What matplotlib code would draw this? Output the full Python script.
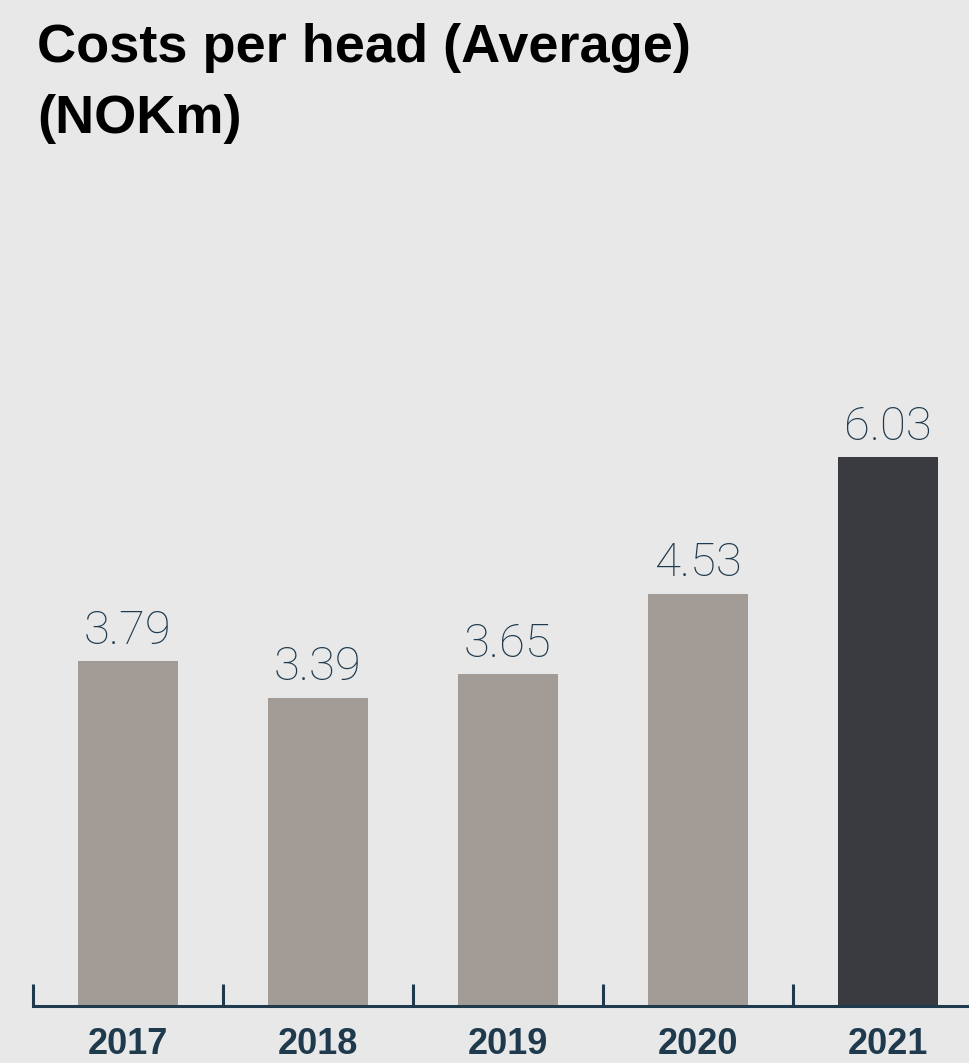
import matplotlib.pyplot as plt

# ==========================================================
# DATA
# ==========================================================

years = ["2017", "2018", "2019", "2020", "2021"]
costs = [3.79, 3.39, 3.65, 4.53, 6.03]
value_labels = ["3.79", "3.39", "3.65", "4.53", "6.03"]

# ==========================================================
# STYLE
# ==========================================================

BG = "#e8e8e8"
BAR_GREY = "#a39b95"
BAR_DARK = "#3a3b41"
NAVY = "#1f3a4d"

bar_colors = [BAR_GREY] * (len(years) - 1) + [BAR_DARK]

W, H = 969, 1063

fig = plt.figure(figsize=(W / 100, H / 100), dpi=100, facecolor=BG)

ax_bottom = 1 - 1006 / H
ax_height = 0.75
ax = fig.add_axes([33 / W, ax_bottom, 1 - 33 / W, ax_height], facecolor=BG)

x = list(range(len(years)))

ax.bar(x, costs, width=100 / 190, color=bar_colors, zorder=2)

for xi, v, lab in zip(x, costs, value_labels):
    ax.annotate(
        lab,
        (xi, v),
        xytext=(0, 6),
        textcoords="offset points",
        ha="center",
        va="bottom",
        fontsize=34,
        fontfamily="Roboto",
        fontweight="light",
        color=NAVY,
    )

# ----------------------------------------------------------
# AXES
# ----------------------------------------------------------

px_per_unit = 91
ax.set_ylim(0, ax_height * H / px_per_unit)
ax.set_xlim(-0.5, (W - 128) / 190)

for side in ["top", "right", "left"]:
    ax.spines[side].set_visible(False)
ax.spines["bottom"].set_color(NAVY)
ax.spines["bottom"].set_linewidth(2.2)
ax.spines["bottom"].set_zorder(3)

ax.set_yticks([])

ax.set_xticks([i - 0.5 for i in x])
ax.set_xticklabels([])
ax.tick_params(axis="x", which="major", direction="in",
               length=16, width=2.2, color=NAVY)

ax.set_xticks(x, labels=years, minor=True)
ax.tick_params(axis="x", which="minor", length=0, pad=15)
for t in ax.get_xticklabels(minor=True):
    t.set_fontfamily("Liberation Sans")
    t.set_fontweight("bold")
    t.set_fontsize(26)
    t.set_color(NAVY)

# ----------------------------------------------------------
# TITLE
# ----------------------------------------------------------

fig.text(37 / W, 1 - 62 / H, "Costs per head (Average)",
         fontsize=39, fontweight="bold", fontfamily="Liberation Sans",
         color="black", va="baseline", ha="left")
fig.text(37 / W, 1 - 133 / H, "(NOKm)",
         fontsize=39, fontweight="bold", fontfamily="Liberation Sans",
         color="black", va="baseline", ha="left")

fig.savefig("out.png", dpi=100, facecolor=BG)
